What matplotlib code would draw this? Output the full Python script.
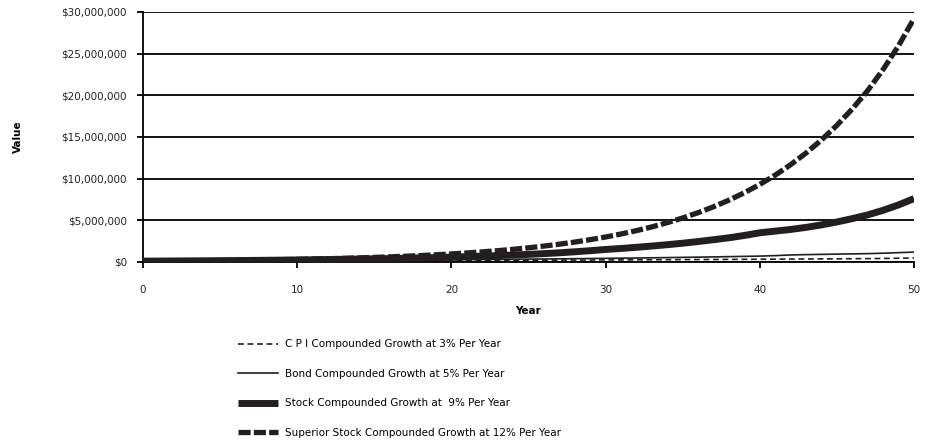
import matplotlib
matplotlib.use("Agg")
import matplotlib.pyplot as plt
from matplotlib.ticker import FuncFormatter

plt.rcParams['font.family'] = ['DejaVu Sans']

years = list(range(51))

cpi_3 = [100000, 103000, 106000, 109000, 113000, 116000, 119000, 123000, 127000, 130000,
         134000, 138000, 143000, 147000, 151000, 156000, 160000, 165000, 170000, 175000,
         181000, 186000, 192000, 197000, 203000, 209000, 216000, 222000, 229000, 236000,
         243000, 250000, 258000, 265000, 273000, 281000, 290000, 299000, 308000, 317000,
         326000, 336000, 346000, 357000, 367000, 378000, 390000, 401000, 420000, 450000,
         480000]

bond_5 = [100000, 105000, 110000, 116000, 122000, 128000, 134000, 141000, 148000, 155000,
          163000, 171000, 180000, 189000, 198000, 208000, 218000, 229000, 241000, 253000,
          265000, 279000, 293000, 307000, 323000, 339000, 356000, 373000, 392000, 412000,
          432000, 454000, 477000, 500000, 525000, 552000, 579000, 608000, 639000, 671000,
          704000, 760000, 840000, 880000, 910000, 940000, 970000, 1000000, 1050000, 1120000,
          1180000]

stock_9 = [100000, 110000, 120000, 130000, 140000, 155000, 170000, 185000, 200000, 220000,
           240000, 265000, 290000, 315000, 345000, 375000, 410000, 445000, 485000, 530000,
           580000, 640000, 700000, 765000, 835000, 910000, 1000000, 1100000, 1220000, 1350000,
           1500000, 1620000, 1760000, 1910000, 2070000, 2250000, 2450000, 2670000, 2900000, 3180000,
           3500000, 3700000, 3900000, 4150000, 4450000, 4800000, 5200000, 5650000, 6200000, 6850000,
           7600000]

superior_12 = [100000, 112000, 125000, 140000, 157000, 176000, 197000, 221000, 248000, 277000,
               311000, 348000, 390000, 436000, 489000, 547000, 613000, 687000, 769000, 861000,
               965000, 1080000, 1210000, 1355000, 1518000, 1700000, 1904000, 2133000, 2388000, 2675000,
               2996000, 3356000, 3758000, 4209000, 4714000, 5280000, 5914000, 6623000, 7418000, 8308000,
               9305000, 10422000, 11672000, 13073000, 14642000, 16399000, 18367000, 20571000, 23100000, 25950000,
               29200000]

labels = ['C P I Compounded Growth at 3% Per Year',
          'Bond Compounded Growth at 5% Per Year',
          'Stock Compounded Growth at  9% Per Year',
          'Superior Stock Compounded Growth at 12% Per Year']

ink = '#231f20'

fig = plt.figure(figsize=(9.31, 4.44), dpi=100)
ax = fig.add_axes([0.1536, 0.41, 0.8281, 0.563])

l1, = ax.plot(years, cpi_3, color=ink, lw=1.2, ls=(0, (3.5, 2.2)), zorder=3)
l2, = ax.plot(years, bond_5, color=ink, lw=1.2, zorder=4)
l3, = ax.plot(years, stock_9, color=ink, lw=5, solid_capstyle='butt', zorder=5)
l4, = ax.plot(years, superior_12, color=ink, lw=3.8, ls=(0, (2.3, 0.6)), zorder=6)

ax.set_xlim(0, 50)
ax.set_ylim(0, 30000000)
ax.set_xticks([0, 10, 20, 30, 40, 50])
ax.set_yticks(range(0, 30000001, 5000000))
ax.yaxis.set_major_formatter(FuncFormatter(lambda v, p: f"${v:,.0f}"))

ax.grid(axis='y', color='black', lw=1.3)
ax.set_axisbelow(True)
for s in ['top', 'right']:
    ax.spines[s].set_visible(False)
for s in ['left', 'bottom']:
    ax.spines[s].set_linewidth(1.3)
    ax.spines[s].set_color('black')
ax.tick_params(axis='both', direction='out', length=4.5, width=1.3, labelsize=7.5,
               colors='black', labelcolor='#222222')
ax.tick_params(axis='y', pad=7)
ax.tick_params(axis='x', pad=12)

ax.set_xlabel('Year', fontsize=7.5, fontweight='bold', labelpad=8)
ax.set_ylabel('Value', fontsize=7.5, fontweight='bold', labelpad=28)

fig.legend([l1, l2, l3, l4], labels, loc='upper left', bbox_to_anchor=(0.2556, 0.236),
           frameon=False, fontsize=7.5, handlelength=3.85, handletextpad=0.62,
           labelspacing=1.88, borderpad=0, borderaxespad=0)

fig.savefig('out.png', dpi=100)
